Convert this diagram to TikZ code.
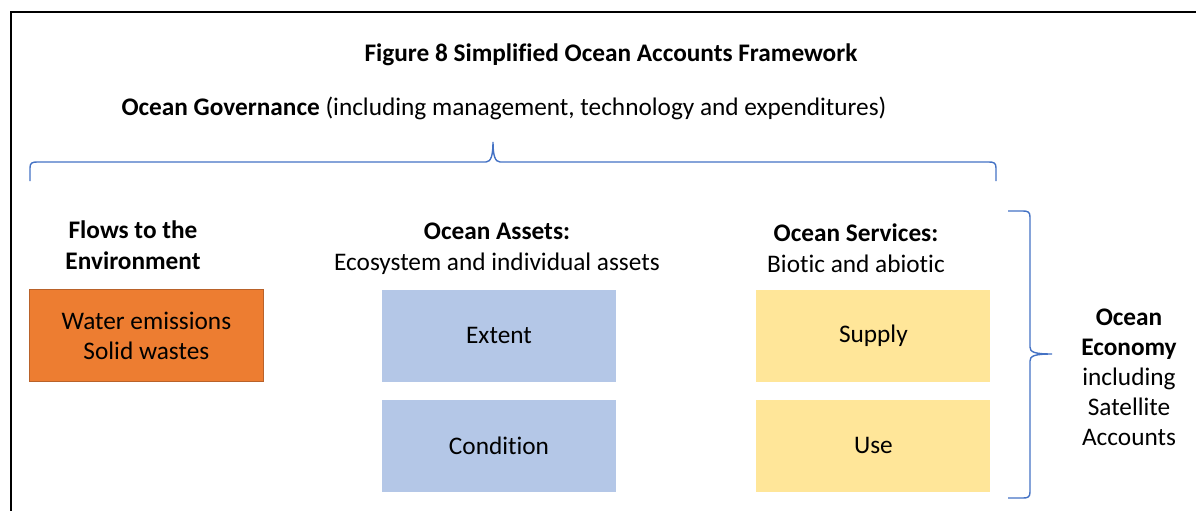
\documentclass[tikz,border=0pt]{standalone}
\usepackage{fontspec}
\setmainfont[Ligatures=NoCommon]{Carlito}
\usetikzlibrary{positioning}

\definecolor{flowsorange}{HTML}{ED7D31}
\definecolor{flowsedge}{HTML}{B9622A}
\definecolor{assetblue}{HTML}{B4C7E7}
\definecolor{serviceyellow}{HTML}{FFE699}
\definecolor{braceblue}{HTML}{4472C4}

\tikzset{
  box/.style={minimum width=234pt, minimum height=92pt, inner sep=0pt,
    align=center, font=\fontsize{25.3}{30}\selectfont},
  head/.style={align=center, font=\fontsize{25.3}{31}\selectfont},
  brace/.style={draw=braceblue, line width=1.4pt}
}

\begin{document}
\begin{tikzpicture}[x=1pt,y=-1pt]
  \useasboundingbox (0,0) rectangle (1196,511);

  % frame
  \draw[line width=1.5pt] (11,511) -- (11,12) -- (1196,12);

  % title and governance line
  \node[anchor=base, font=\bfseries\fontsize{25.3}{30}\selectfont] (title)
    at (611,62) {Figure 8 Simplified Ocean Accounts Framework};
  \node[anchor=base west, font=\fontsize{25.3}{30}\selectfont] (gov)
    at (118,115) {\textbf{Ocean Governance} (including management, technology and expenditures)};

  % braces
  \draw[brace] (30,181) -- (30,168) .. controls (30,163) and (32,162) .. (37,162)
    -- (486,162) .. controls (491,162) and (493,155) .. (493,142)
    .. controls (493,155) and (495,162) .. (500,162)
    -- (989,162) .. controls (994,162) and (996,163) .. (996,168) -- (996,181);
  \draw[brace] (1008,211) -- (1023,211) .. controls (1028,211) and (1030,212) .. (1030,217)
    -- (1030,347) .. controls (1030,352) and (1034,354) .. (1052,354)
    .. controls (1034,354) and (1030,356) .. (1030,361)
    -- (1030,492) .. controls (1030,497) and (1028,498) .. (1023,498) -- (1008,498);

  % column heads
  \node[head, font={\bfseries\fontsize{25.3}{31}\selectfont}] (flowshead) at (133,245)
    {Flows to the\\Environment};
  \node[head] (assetshead) at (497,249) {\textbf{Ocean Assets:}\\Ecosystem and individual assets};
  \node[head] (serviceshead) at (856,248) {\textbf{Ocean Services:}\\Biotic and abiotic};

  % boxes
  \node[box, fill=assetblue] (extent) at (499,335.5) {Extent};
  \node[box, fill=assetblue, below=18pt of extent] (condition) {Condition};
  \node[box, fill=flowsorange, draw=flowsedge, line width=0.8pt, left=118pt of extent] (flows)
    {Water emissions\\Solid wastes};
  \node[box, fill=serviceyellow, right=140pt of extent] (supply) {Supply};
  \node[box, fill=serviceyellow, below=18pt of supply] (use) {Use};

  % economy label
  \node[head, font=\fontsize{25.3}{30}\selectfont] (economy) at (1129,377)
    {\textbf{Ocean}\\\textbf{Economy}\\including\\Satellite\\Accounts};
\end{tikzpicture}
\end{document}
